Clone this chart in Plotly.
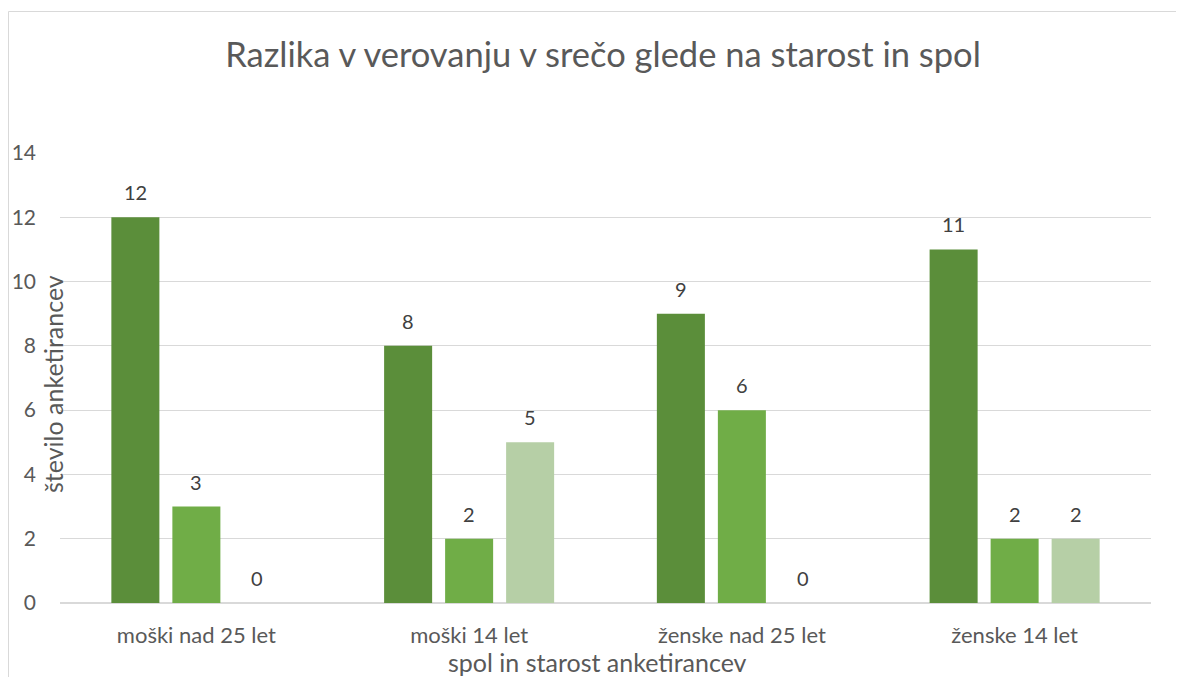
import plotly.graph_objects as go

categories = ["moški nad 25 let", "moški 14 let", "ženske nad 25 let", "ženske 14 let"]
series_names = ["Serija 1", "Serija 2", "Serija 3"]
series_1 = [12, 8, 9, 11]
series_2 = [3, 2, 6, 2]
series_3 = [0, 5, 0, 2]
colors = ["#5B8E3A", "#70AD47", "#B6CFA6"]

title_text = "Razlika v verovanju v srečo glede na starost in spol"
x_title = "spol in starost anketirancev"
y_title = "število anketirancev"

FONT = "Lato, Open Sans, sans-serif"
O = 8  # page body margin offset
W, H = 1184 - O, 677 - O
L, R, T, B = 60 - O, 33, 153 - O, 74
plot_w = W - L - R
plot_h = H - T - B
base_y = 603 - O

def px_x(px):
    return (px - O - L) / plot_w

def px_y(py):
    return (base_y - (py - O)) / plot_h

fig = go.Figure()
all_series = [series_1, series_2, series_3]
for name, vals, col in zip(series_names, all_series, colors):
    fig.add_trace(go.Bar(x=categories, y=vals, name=name, marker_color=col,
                         marker_line_width=0, hoverinfo="x+y"))

slot = plot_w / len(categories) * (1 - 0.329) / 3
for i, vals in enumerate(all_series):
    for c, v in zip(categories, vals):
        fig.add_annotation(x=c, y=v, xref="x", yref="y", text=str(v), showarrow=False,
                           xshift=(i - 1) * slot, yshift=25, yanchor="middle",
                           font=dict(family=FONT, size=20, color="#404040"))

fig.add_annotation(x=px_x(53), y=px_y(384), xref="paper", yref="paper",
                   text=y_title, textangle=-90, showarrow=False, xanchor="center", yanchor="middle",
                   font=dict(family=FONT, size=25, color="#595959"))
fig.add_annotation(x=px_x(597), y=px_y(662), xref="paper", yref="paper",
                   text=x_title, showarrow=False, xanchor="center", yanchor="middle",
                   font=dict(family=FONT, size=25, color="#595959"))

fig.add_shape(type="rect", xref="paper", yref="paper",
              x0=px_x(8.5), x1=1.2, y0=-0.5, y1=px_y(11.5),
              line=dict(color="#D9D9D9", width=1), fillcolor="rgba(0,0,0,0)", layer="below")

fig.update_layout(
    width=W, height=H,
    margin=dict(l=L, r=R, t=T, b=B, autoexpand=False),
    paper_bgcolor="white", plot_bgcolor="white",
    showlegend=False,
    barmode="group", bargap=0.329, bargroupgap=0.213,
    title=dict(text=title_text, x=(603 - O) / W, xanchor="center", y=1 - (55 - O) / H, yanchor="middle",
               yref="container", font=dict(family=FONT, size=34.5, color="#595959")),
    font=dict(family=FONT, color="#595959"),
)
fig.update_xaxes(showgrid=False, showline=False, zeroline=False, ticks="", automargin=False,
                 tickfont=dict(family=FONT, size=22, color="#595959"), ticklabelstandoff=17)
fig.update_yaxes(range=[0, 14], dtick=2, showgrid=True, gridcolor="#D9D9D9", gridwidth=1,
                 zeroline=True, zerolinecolor="#D9D9D9", zerolinewidth=1.5, showline=False, ticks="",
                 automargin=False,
                 tickfont=dict(family=FONT, size=21, color="#595959"), ticklabelstandoff=23)

fig.write_html("out.html")
